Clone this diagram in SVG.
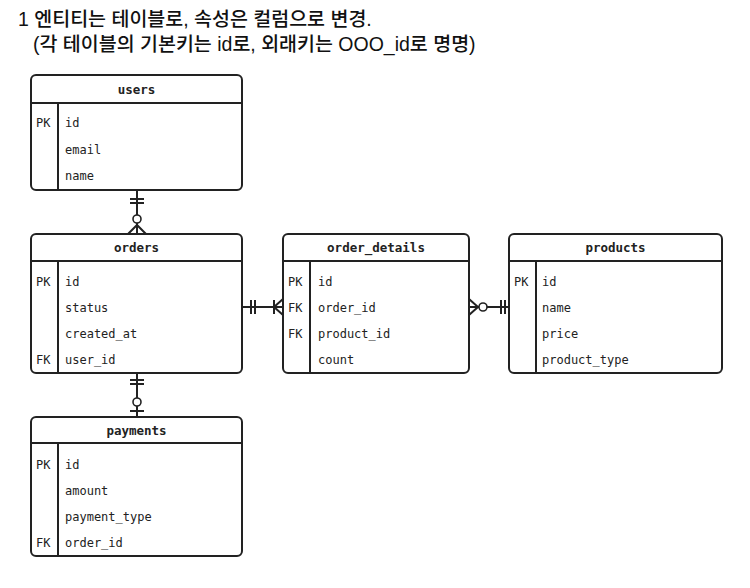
<svg xmlns="http://www.w3.org/2000/svg" width="750" height="588" viewBox="0 0 750 588">
<style>
.box{fill:#fff;stroke:#222;stroke-width:2}
.ln{stroke:#222;stroke-width:2;fill:none}
.hd{font-family:"DejaVu Sans Mono","Liberation Mono",monospace;font-size:12.5px;font-weight:bold;fill:#222;text-anchor:middle}
.tx{font-family:"DejaVu Sans Mono","Liberation Mono",monospace;font-size:12px;fill:#222}
.title{font-family:"Liberation Sans","Noto Sans CJK KR",sans-serif;font-size:19.5px;fill:#111;font-weight:500}
.c{fill:#fff;stroke:#222;stroke-width:1.6}
</style>
<rect width="750" height="588" fill="#fff"/>
<g id="title">
<text class="title" x="18" y="26">1 엔티티는 테이블로, 속성은 컬럼으로 변경.</text>
<text class="title" x="33" y="51">(각 테이블의 기본키는 id로, 외래키는 OOO_id로 명명)</text>
</g>
<g id="users">
<rect class="box" x="31" y="75" width="211" height="115" rx="5"/>
<line class="ln" x1="31" y1="103" x2="242" y2="103"/>
<line class="ln" x1="58" y1="103" x2="58" y2="190"/>
<text class="hd" x="136.5" y="94">users</text>
<text class="tx" x="36" y="127">PK</text>
<text class="tx" x="65" y="127">id</text>
<text class="tx" x="65" y="154">email</text>
<text class="tx" x="65" y="180">name</text>
</g>
<g id="orders">
<rect class="box" x="31" y="234" width="211" height="139" rx="5"/>
<line class="ln" x1="31" y1="261" x2="242" y2="261"/>
<line class="ln" x1="58" y1="261" x2="58" y2="373"/>
<text class="hd" x="136.5" y="252">orders</text>
<text class="tx" x="36" y="286">PK</text>
<text class="tx" x="65" y="286">id</text>
<text class="tx" x="65" y="312">status</text>
<text class="tx" x="65" y="338">created_at</text>
<text class="tx" x="36" y="364">FK</text>
<text class="tx" x="65" y="364">user_id</text>
</g>
<g id="order_details">
<rect class="box" x="283" y="234" width="186" height="139" rx="5"/>
<line class="ln" x1="283" y1="261" x2="469" y2="261"/>
<line class="ln" x1="310" y1="261" x2="310" y2="373"/>
<text class="hd" x="376" y="252">order_details</text>
<text class="tx" x="288" y="286">PK</text>
<text class="tx" x="318" y="286">id</text>
<text class="tx" x="288" y="312">FK</text>
<text class="tx" x="318" y="312">order_id</text>
<text class="tx" x="288" y="338">FK</text>
<text class="tx" x="318" y="338">product_id</text>
<text class="tx" x="318" y="364">count</text>
</g>
<g id="products">
<rect class="box" x="509" y="234" width="213" height="139" rx="5"/>
<line class="ln" x1="509" y1="261" x2="722" y2="261"/>
<line class="ln" x1="536" y1="261" x2="536" y2="373"/>
<text class="hd" x="615.5" y="252">products</text>
<text class="tx" x="514" y="286">PK</text>
<text class="tx" x="542" y="286">id</text>
<text class="tx" x="542" y="312">name</text>
<text class="tx" x="542" y="338">price</text>
<text class="tx" x="542" y="364">product_type</text>
</g>
<g id="payments">
<rect class="box" x="31" y="417" width="211" height="139" rx="5"/>
<line class="ln" x1="31" y1="443" x2="242" y2="443"/>
<line class="ln" x1="58" y1="443" x2="58" y2="556"/>
<text class="hd" x="136.5" y="435">payments</text>
<text class="tx" x="36" y="469">PK</text>
<text class="tx" x="65" y="469">id</text>
<text class="tx" x="65" y="495">amount</text>
<text class="tx" x="65" y="521">payment_type</text>
<text class="tx" x="36" y="547">FK</text>
<text class="tx" x="65" y="547">order_id</text>
</g>
<g id="connectors">
<!-- users - orders -->
<line class="ln" x1="137" y1="190" x2="137" y2="234"/>
<line class="ln" x1="130" y1="199" x2="144" y2="199"/>
<line class="ln" x1="130" y1="203" x2="144" y2="203"/>
<path class="ln" d="M128 234 L137 225 L146 234"/>
<circle class="c" cx="137" cy="219" r="4"/>
<!-- orders - order_details -->
<line class="ln" x1="242" y1="307" x2="283" y2="307"/>
<line class="ln" x1="251" y1="300" x2="251" y2="314"/>
<line class="ln" x1="255" y1="300" x2="255" y2="314"/>
<line class="ln" x1="274" y1="300" x2="274" y2="314"/>
<path class="ln" d="M283 299 L274 307 L283 315"/>
<!-- order_details - products -->
<line class="ln" x1="469" y1="307" x2="509" y2="307"/>
<path class="ln" d="M469 299 L478 307 L469 315"/>
<circle class="c" cx="483" cy="307" r="4"/>
<line class="ln" x1="501" y1="300" x2="501" y2="314"/>
<line class="ln" x1="505" y1="300" x2="505" y2="314"/>
<!-- orders - payments -->
<line class="ln" x1="137" y1="373" x2="137" y2="417"/>
<line class="ln" x1="130" y1="380" x2="144" y2="380"/>
<line class="ln" x1="130" y1="384" x2="144" y2="384"/>
<line class="ln" x1="130" y1="411" x2="144" y2="411"/>
<circle class="c" cx="137" cy="402" r="4"/>
</g>
</svg>
